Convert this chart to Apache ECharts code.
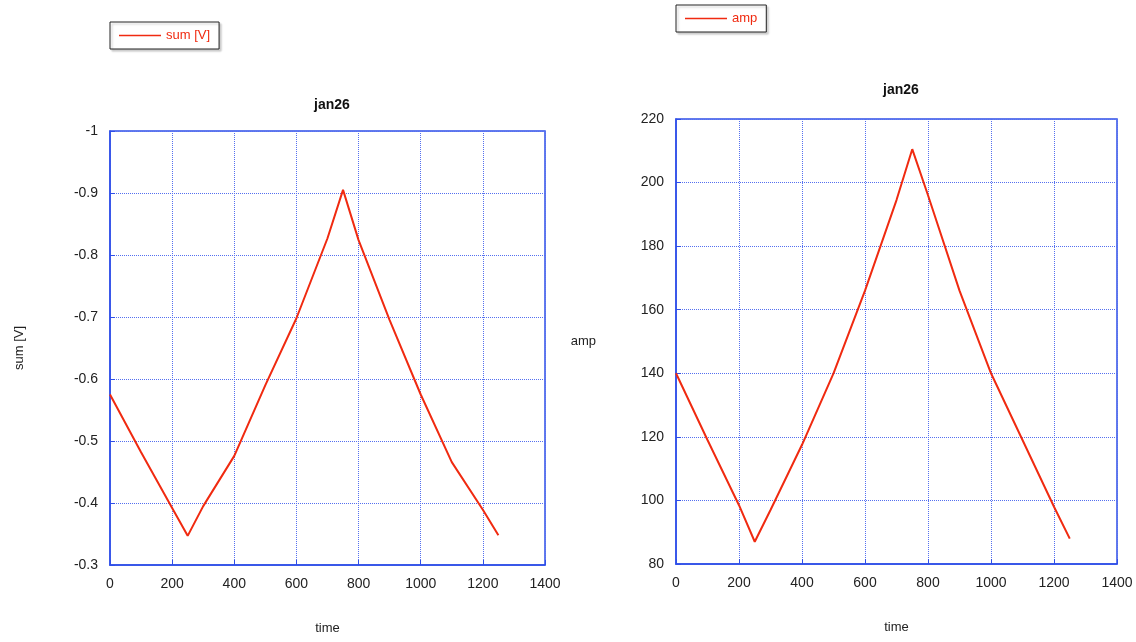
<!DOCTYPE html>
<html>
<head>
<meta charset="utf-8">
<script src="https://cdn.jsdelivr.net/npm/echarts@6/dist/echarts.min.js"></script>
<style>
  html, body { margin: 0; padding: 0; background: #fff; }
  #chart { width: 1136px; height: 642px; }
</style>
</head>
<body>
<div id="chart"></div>
<script>
// time samples
const timeSum = [0, 100, 200, 250, 300, 400, 500, 600, 700, 750, 800, 900, 1000, 1100, 1200, 1250]
const sumValues = [-0.575, -0.482, -0.392, -0.347, -0.395, -0.476, -0.59, -0.698, -0.827, -0.905, -0.824, -0.695, -0.575, -0.466, -0.389, -0.348]

const timeAmp = [0, 100, 200, 250, 300, 400, 500, 600, 700, 750, 800, 900, 1000, 1100, 1200, 1250]
const ampValues = [140, 119, 98.5, 87, 97, 117.5, 140, 166, 194.5, 210.5, 196, 166, 140, 119, 98, 88]

const xTicks = [0, 200, 400, 600, 800, 1000, 1200, 1400]

const blue = '#2f4fe8'
const gridBlue = '#5570f0'
const red = '#f02a10'
const font = 'Liberation Sans'

const chart = echarts.init(document.getElementById('chart'))

function xAxisOf(gridIndex) {
  return {
    type: 'value',
    gridIndex: gridIndex,
    min: xTicks[0],
    max: xTicks[xTicks.length - 1],
    interval: 200,
    name: 'time',
    nameLocation: 'middle',
    nameGap: 57,
    nameTextStyle: { fontFamily: font, fontSize: 13, color: '#222' },
    axisLine: { lineStyle: { color: blue, width: 1.5 } },
    axisTick: { inside: true, length: 5, lineStyle: { color: blue } },
    axisLabel: { fontFamily: font, fontSize: 14, color: '#222', margin: 12,
      formatter: v => String(v) },
    splitLine: { lineStyle: { color: gridBlue, type: 'dotted', width: 1 } }
  }
}

function legendOf(name, left, top) {
  return {
    data: [name], left: left, top: top, orient: 'horizontal',
    icon: 'rect', itemWidth: 42, itemHeight: 1.5, itemGap: 4,
    padding: [7, 9, 7, 9],
    borderColor: '#222', borderWidth: 1, backgroundColor: '#fff',
    shadowColor: 'rgba(0,0,0,0.2)', shadowOffsetX: 2, shadowOffsetY: 2, shadowBlur: 2,
    textStyle: { fontFamily: font, fontSize: 13, color: red }
  }
}

chart.setOption({
  animation: false,
  title: [
    { text: 'jan26', left: 327, top: 93, textAlign: 'center',
      textStyle: { fontFamily: font, fontSize: 14, fontWeight: 'bold', color: '#111' } },
    { text: 'jan26', left: 896, top: 78, textAlign: 'center',
      textStyle: { fontFamily: font, fontSize: 14, fontWeight: 'bold', color: '#111' } }
  ],
  legend: [legendOf('sum [V]', 110, 22), legendOf('amp', 676, 5)],
  grid: [
    { left: 110, top: 131, width: 435, height: 434, show: true, borderColor: blue, borderWidth: 1.5 },
    { left: 676, top: 119, width: 441, height: 445, show: true, borderColor: blue, borderWidth: 1.5 }
  ],
  xAxis: [xAxisOf(0), xAxisOf(1)],
  yAxis: [
    {
      type: 'value', gridIndex: 0,
      min: -1, max: -0.3, interval: 0.1, inverse: true,
      name: 'sum [V]', nameLocation: 'middle', nameRotate: 90, nameGap: 84,
      nameTextStyle: { fontFamily: font, fontSize: 13, color: '#222' },
      axisLine: { show: true, lineStyle: { color: blue, width: 1.5 } },
      axisTick: { show: true, inside: true, length: 5, lineStyle: { color: blue } },
      axisLabel: { fontFamily: font, fontSize: 14, color: '#222', margin: 12,
        formatter: v => String(Math.round(v * 10) / 10) },
      splitLine: { lineStyle: { color: gridBlue, type: 'dotted', width: 1 } }
    },
    {
      type: 'value', gridIndex: 1,
      min: 80, max: 220, interval: 20,
      name: 'amp', nameLocation: 'middle', nameRotate: 0, nameGap: 80,
      nameTextStyle: { fontFamily: font, fontSize: 13, color: '#222' },
      axisLine: { show: true, lineStyle: { color: blue, width: 1.5 } },
      axisTick: { show: true, inside: true, length: 5, lineStyle: { color: blue } },
      axisLabel: { fontFamily: font, fontSize: 14, color: '#222', margin: 12 },
      splitLine: { lineStyle: { color: gridBlue, type: 'dotted', width: 1 } }
    }
  ],
  series: [
    {
      name: 'sum [V]', type: 'line', xAxisIndex: 0, yAxisIndex: 0,
      symbol: 'none', color: red,
      lineStyle: { color: red, width: 2 },
      data: timeSum.map((t, i) => [t, sumValues[i]])
    },
    {
      name: 'amp', type: 'line', xAxisIndex: 1, yAxisIndex: 1,
      symbol: 'none', color: red,
      lineStyle: { color: red, width: 2 },
      data: timeAmp.map((t, i) => [t, ampValues[i]])
    }
  ]
})
</script>
</body>
</html>
